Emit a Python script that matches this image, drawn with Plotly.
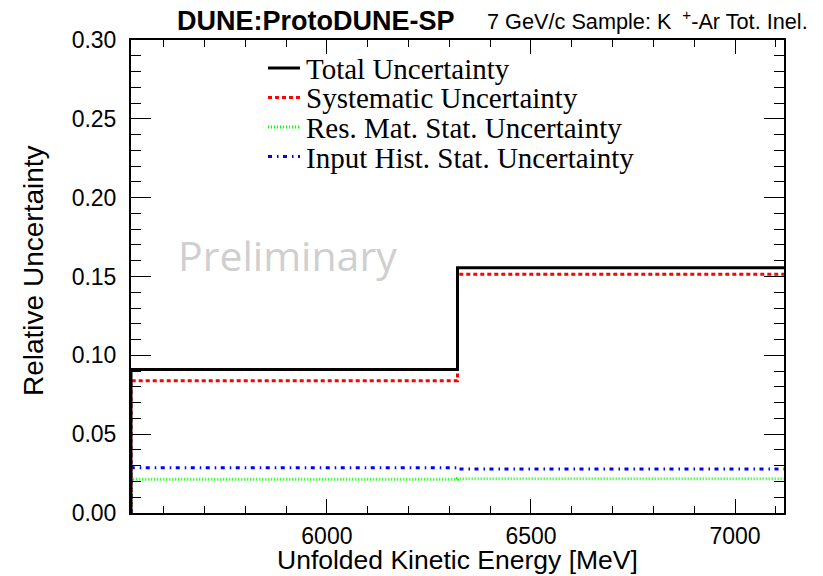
import plotly.graph_objects as go

# Binning of the unfolded kinetic energy [MeV]
bin_edges = [5520, 6320, 7120]

# Relative uncertainty per bin
total_unc = [0.091, 0.1555]
syst_unc = [0.0839, 0.1514]
resmat_stat_unc = [0.0214, 0.0218]
input_stat_unc = [0.0287, 0.0279]

series_names = [
    "Total Uncertainty",
    "Systematic Uncertainty",
    "Res. Mat. Stat. Uncertainty",
    "Input Hist. Stat. Uncertainty",
]
series_values = [total_unc, syst_unc, resmat_stat_unc, input_stat_unc]
series_colors = ["#000000", "#ff0000", "#00ff00", "#0000ff"]
series_dash = ["solid", "4px,3px", "1px,2px", "4px,5px,1.5px,4.5px"]
series_width = [3, 3, 3, 3]

x_ticks = [6000, 6500, 7000]
y_ticks = [0.0, 0.05, 0.10, 0.15, 0.20, 0.25, 0.30]

x_title = "Unfolded Kinetic Energy [MeV]"
y_title = "Relative Uncertainty"

FONT = "Liberation Sans, Arial, Helvetica, sans-serif"
SERIF = "Liberation Serif, Times New Roman, serif"


def step_xy(edges, values):
    """ROOT-like histogram outline: rises from zero at the low edge."""
    xs = [edges[0]] + list(edges[:-1]) + [edges[-1]]
    ys = [0.0] + list(values) + [values[-1]]
    return xs, ys


fig = go.Figure()
# draw order: stats first, total on top
for idx in [2, 3, 1, 0]:
    xs, ys = step_xy(bin_edges, series_values[idx])
    fig.add_trace(
        go.Scatter(
            x=xs,
            y=ys,
            mode="lines",
            line=dict(
                color=series_colors[idx],
                width=series_width[idx],
                dash=series_dash[idx],
                shape="hv",
            ),
            name=series_names[idx],
            showlegend=False,
            hoverinfo="skip",
        )
    )

W, H = 823, 576
ml, mr, mt, mb = 131, 39, 40, 63
pw, ph = W - ml - mr, H - mt - mb


def px_x(px):
    return (px - ml) / pw


def px_y(py):
    return (H - mb - py) / ph


axis_common = dict(
    showline=True,
    linecolor="black",
    linewidth=2,
    mirror="allticks",
    ticks="inside",
    tickcolor="black",
    tickwidth=1,
    showgrid=False,
    zeroline=False,
    automargin=False,
    tickfont=dict(family=FONT, size=23, color="black"),
)

fig.update_xaxes(
    range=[bin_edges[0], bin_edges[-1]],
    tickvals=x_ticks,
    ticktext=[str(v) for v in x_ticks],
    ticklen=14,
    ticklabelstandoff=1,
    minor=dict(dtick=100, ticks="inside", ticklen=7, tickcolor="black", tickwidth=1, showgrid=False),
    **axis_common,
)
fig.update_yaxes(
    range=[0, 0.30],
    tickvals=y_ticks,
    ticktext=[f"{v:.2f}" for v in y_ticks],
    ticklen=20,
    ticklabelstandoff=8,
    minor=dict(dtick=0.01, ticks="inside", ticklen=10, tickcolor="black", tickwidth=1, showgrid=False),
    **axis_common,
)

shapes = []
annotations = []

# Axis titles
annotations.append(
    dict(
        text=x_title, xref="paper", yref="paper",
        x=0.5, y=px_y(560), xanchor="center", yanchor="middle",
        showarrow=False, font=dict(family=FONT, size=26.5, color="black"),
    )
)
annotations.append(
    dict(
        text=y_title, xref="paper", yref="paper", textangle=-90,
        x=px_x(33), y=px_y(271), xanchor="center", yanchor="middle",
        showarrow=False, font=dict(family=FONT, size=28, color="black"),
    )
)

# Legend drawn in the upper part of the frame
row_y = [68, 97.5, 127, 156.5]
for name, col, dash, wdt, ry in zip(series_names, series_colors, series_dash, series_width, row_y):
    shapes.append(
        dict(
            type="line", xref="paper", yref="paper",
            x0=px_x(268), x1=px_x(300), y0=px_y(ry), y1=px_y(ry),
            line=dict(color=col, width=wdt, dash=dash),
        )
    )
    annotations.append(
        dict(
            text=name, xref="paper", yref="paper",
            x=px_x(304), y=px_y(ry + 1), xanchor="left", yanchor="middle",
            showarrow=False, font=dict(family=SERIF, size=29, color="black"),
        )
    )

# Header
annotations.append(
    dict(
        text="<b>DUNE:ProtoDUNE-SP</b>", xref="paper", yref="paper",
        x=px_x(175), y=px_y(21), xanchor="left", yanchor="middle",
        showarrow=False, font=dict(family=FONT, size=27, color="black"),
    )
)
annotations.append(
    dict(
        text="7 GeV/c Sample: K\u2002<sup>+</sup>-Ar Tot. Inel.", xref="paper", yref="paper",
        x=px_x(485), y=px_y(20), xanchor="left", yanchor="middle",
        showarrow=False, font=dict(family=FONT, size=21.7, color="black"),
    )
)
# Watermark
annotations.append(
    dict(
        text="Preliminary", xref="paper", yref="paper",
        x=px_x(176), y=px_y(255), xanchor="left", yanchor="middle",
        showarrow=False, font=dict(family="Open Sans, sans-serif", size=41, color="#cfcfcf"),
    )
)

fig.update_layout(
    width=W,
    height=H,
    margin=dict(l=ml, r=mr, t=mt, b=mb, pad=0),
    paper_bgcolor="white",
    plot_bgcolor="white",
    showlegend=False,
    shapes=shapes,
    annotations=annotations,
)

fig.write_html("out.html")
